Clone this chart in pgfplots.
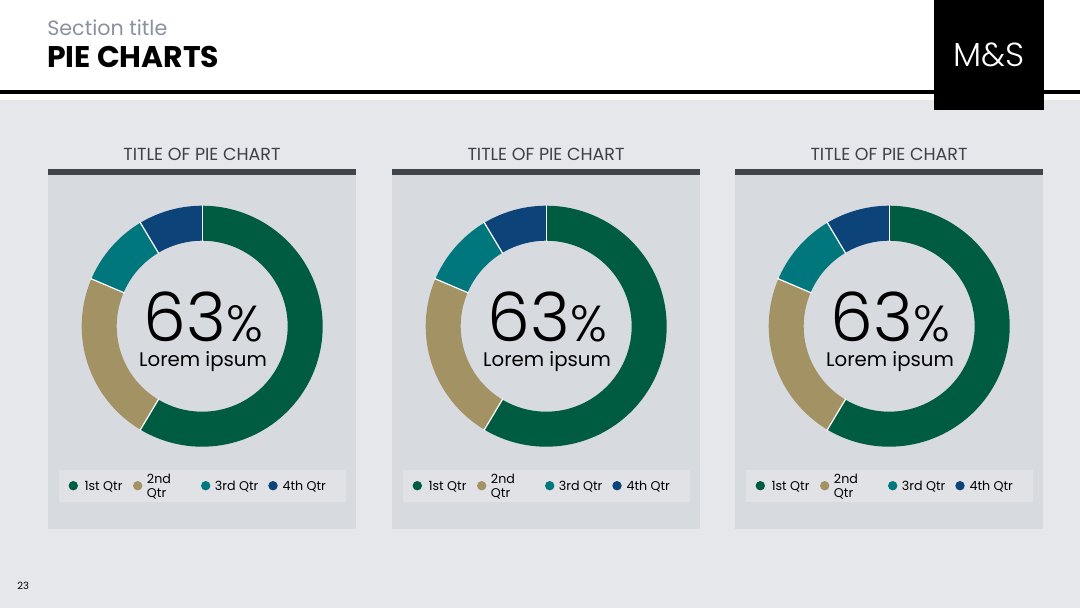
\documentclass[border=0pt]{standalone}
\usepackage{pgfplots}
\pgfplotsset{compat=1.18}
\usepackage{pgfplotstable}
\usepackage{fontspec}
\setmainfont{Poppins}
\newfontfamily\lightfont{Poppins Light}
\definecolor{bgc}{HTML}{E6E7EB}
\definecolor{panelc}{HTML}{D7DADF}
\definecolor{barc}{HTML}{41464D}
\definecolor{legc}{HTML}{E1E2E6}
\definecolor{sectc}{HTML}{8A92A1}
\definecolor{titc}{HTML}{3C4148}
\definecolor{cgreen}{HTML}{005C40}
\definecolor{ctan}{HTML}{A39263}
\definecolor{cteal}{HTML}{00767D}
\definecolor{cnavy}{HTML}{0C4479}

\pgfplotstableread{
qtr value
1 8.2
2 3.2
3 1.4
4 1.2
}\piedata

\newcommand{\donut}[2]{%
\begin{axis}[at={(#1*0.75pt,-#2*0.75pt)}, anchor=center,
  x=0.75pt, y=0.75pt, xmin=-125, xmax=125, ymin=-125, ymax=125,
  hide axis, clip=false, scale only axis]
\addplot[draw=cgreen, line width=26.25pt, domain=90:\aA, samples=90, data cs=polar] ({x},{103});
\addplot[draw=ctan, line width=26.25pt, domain=\aA:\aB, samples=40, data cs=polar] ({x},{103});
\addplot[draw=cteal, line width=26.25pt, domain=\aB:\aC, samples=20, data cs=polar] ({x},{103});
\addplot[draw=cnavy, line width=26.25pt, domain=\aC:\aD, samples=20, data cs=polar] ({x},{103});
\addplot[draw=white, line width=0.9pt, data cs=polar] coordinates {(90,84.5) (90,121.5)};
\addplot[draw=white, line width=0.9pt, data cs=polar] coordinates {(\aA,84.5) (\aA,121.5)};
\addplot[draw=white, line width=0.9pt, data cs=polar] coordinates {(\aB,84.5) (\aB,121.5)};
\addplot[draw=white, line width=0.9pt, data cs=polar] coordinates {(\aC,84.5) (\aC,121.5)};
\end{axis}}

\begin{document}
\begin{tikzpicture}
\pgfplotstablegetelem{0}{value}\of\piedata \let\va\pgfplotsretval
\pgfplotstablegetelem{1}{value}\of\piedata \let\vb\pgfplotsretval
\pgfplotstablegetelem{2}{value}\of\piedata \let\vc\pgfplotsretval
\pgfplotstablegetelem{3}{value}\of\piedata \let\vd\pgfplotsretval
\pgfmathsetmacro\tot{\va+\vb+\vc+\vd}
\pgfmathsetmacro\aA{90-360*\va/\tot}
\pgfmathsetmacro\aB{\aA-360*\vb/\tot}
\pgfmathsetmacro\aC{\aB-360*\vc/\tot}
\pgfmathsetmacro\aD{\aC-360*\vd/\tot}
\begin{scope}[x=0.75pt,y=-0.75pt]
\fill[white] (0,0) rectangle (1080,608);
\fill[bgc] (0,100) rectangle (1080,608);
\fill[black] (0,90) rectangle (1080,93.5);
\fill[black] (934.3,0) rectangle (1044.3,110);
\node[white, anchor=base, inner sep=0] at (989,66) {\lightfont\fontsize{25pt}{25pt}\selectfont M\&S};
\node[sectc, anchor=base west, inner sep=0] at (47,35.7) {\fontsize{15.5pt}{16pt}\selectfont Section title};
\node[black, anchor=base west, inner sep=0] at (47,67.7) {\fontsize{22.4pt}{23pt}\selectfont\bfseries PIE CHARTS};
\node[black, anchor=base west, inner sep=0] at (17,589) {\fontsize{7.5pt}{8pt}\selectfont 23};
\foreach \px in {48,392,735}{
  \fill[barc] (\px,169) rectangle ++(308,6.3);
  \fill[panelc] (\px,175.3) rectangle ++(308,353.7);
  \node[titc, anchor=base, inner sep=0] at (\px+154,160.3) {\fontsize{13.1pt}{13.5pt}\selectfont TITLE OF PIE CHART};
  \fill[legc] (\px+11,470) rectangle ++(287,31.7);
  \fill[cgreen] (\px+25.3,485.7) circle (4.7);
  \fill[ctan] (\px+89.7,485.7) circle (4.7);
  \fill[cteal] (\px+157.7,485.7) circle (4.7);
  \fill[cnavy] (\px+225,485.7) circle (4.7);
  \node[black, anchor=base west, inner sep=0] at (\px+36.3,490.3) {\fontsize{9.5pt}{10pt}\selectfont 1st Qtr};
  \node[black, anchor=base west, inner sep=0] at (\px+98.7,483.5) {\fontsize{9.5pt}{10pt}\selectfont 2nd};
  \node[black, anchor=base west, inner sep=0] at (\px+98.7,497) {\fontsize{9.5pt}{10pt}\selectfont Qtr};
  \node[black, anchor=base west, inner sep=0] at (\px+166.7,490.3) {\fontsize{9.5pt}{10pt}\selectfont 3rd Qtr};
  \node[black, anchor=base west, inner sep=0] at (\px+234.3,490.3) {\fontsize{9.5pt}{10pt}\selectfont 4th Qtr};
  \node[black, anchor=base, inner sep=0] at (\px+155.4,341.7) {\lightfont\fontsize{51pt}{51pt}\selectfont 63\fontsize{38pt}{38pt}\selectfont\%};
  \node[black, anchor=base, inner sep=0] at (\px+155,366.7) {\fontsize{14.8pt}{15pt}\selectfont Lorem ipsum};
}
\end{scope}
\foreach \cx in {202.2,546.2,889.2}{\donut{\cx}{326.2}}
\end{tikzpicture}
\end{document}
